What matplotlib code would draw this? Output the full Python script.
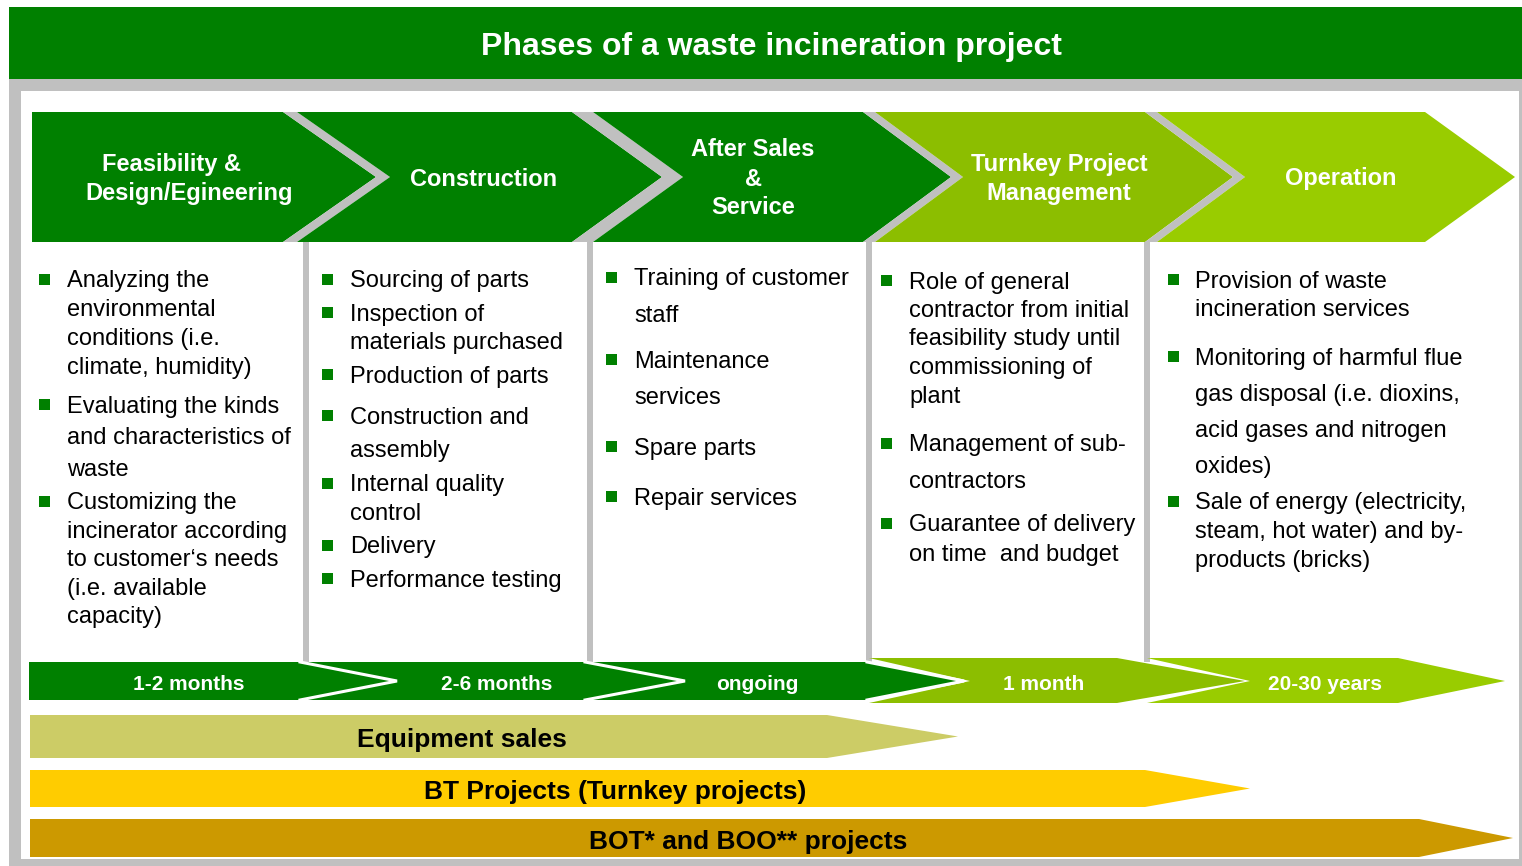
import matplotlib.pyplot as plt
from matplotlib.patches import Polygon, Rectangle

FONT = ['Liberation Sans', 'DejaVu Sans']
plt.rcParams['font.family'] = FONT

# ---- content ----
title = "Phases of a waste incineration project"
phases = ["Feasibility &\nDesign/Egineering", "Construction", "After Sales\n&\nService",
          "Turnkey Project\nManagement", "Operation"]
durations = ["1-2 months", "2-6 months", "ongoing", "1 month", "20-30 years"]
models = ["Equipment sales", "BT Projects (Turnkey projects)", "BOT* and BOO** projects"]

tasks_feasibility = ["Analyzing the\nenvironmental\nconditions (i.e.\nclimate, humidity)",
                     "Evaluating the kinds\nand characteristics of\nwaste",
                     "Customizing the\nincinerator according\nto customer‘s needs\n(i.e. available\ncapacity)"]
tasks_construction = ["Sourcing of parts", "Inspection of\nmaterials purchased", "Production of parts",
                      "Construction and\nassembly", "Internal quality\ncontrol", "Delivery",
                      "Performance testing"]
tasks_service = ["Training of customer\nstaff", "Maintenance\nservices", "Spare parts", "Repair services"]
tasks_turnkey = ["Role of general\ncontractor from initial\nfeasibility study until\ncommissioning of\nplant",
                 "Management of sub-\ncontractors", "Guarantee of delivery\non time  and budget"]
tasks_operation = ["Provision of waste\nincineration services",
                   "Monitoring of harmful flue\ngas disposal (i.e. dioxins,\nacid gases and nitrogen\noxides)",
                   "Sale of energy (electricity,\nsteam, hot water) and by-\nproducts (bricks)"]
tasks = [tasks_feasibility, tasks_construction, tasks_service, tasks_turnkey, tasks_operation]

# ---- styling / layout (pixels, y down) ----
W, H, DPI = 1522, 866, 100
GREEN = '#008000'
GRAY = '#C0C0C0'
phase_colors = [GREEN, GREEN, GREEN, '#8CBE00', '#99CC00']
model_colors = ['#CCCC66', '#FFCC00', '#CC9900']

ch_left = [32, 297, 593, 875, 1157]
ch_right = [283, 572, 863, 1145, 1425]
ch_depth = [93, 90, 88, 88, 90]
ch_top, ch_bot = 112, 242
ch_mid = (ch_top + ch_bot) / 2
label_x = [189, 484, 753, 1059, 1341]

col_lines = [303, 587, 866, 1144]
bullet_x = [44, 327, 611, 886, 1173]
text_x = [67, 350, 634, 909, 1195]
item_pos = [
    [(279, 28.7), (404, 31.5), (501, 28.5)],
    [(279, 0), (312, 29), (374, 0), (415, 34), (483, 29), (545, 0), (578, 0)],
    [(277, 36), (359, 36), (446, 0), (496, 0)],
    [(280, 28.5), (443, 36), (523, 29)],
    [(279, 29), (356, 36), (501, 28.5)],
]

dur_x = [189, 497, 757, 1044, 1325]

bar_rows = [(715, 758), (770, 807), (819, 857)]
bar_right = [827, 1145, 1419]
bar_tip = [958, 1250, 1513]
model_x = [462, 615, 748]


def put(x, yc, s, fs, **kw):
    # place text so that its visual centre sits at yc
    ax.text(x, yc + 0.36 * fs * DPI / 72, s, fontsize=fs, va='baseline', **kw)


fig = plt.figure(figsize=(W / DPI, H / DPI), dpi=DPI)
ax = fig.add_axes([0, 0, 1, 1])
ax.set_xlim(0, W)
ax.set_ylim(H, 0)
ax.axis('off')

# header and frame
ax.add_patch(Rectangle((9, 7), W - 9, 72, color=GREEN, lw=0))
put(771, 44, title, 23, color='white', weight='bold', ha='center')
ax.add_patch(Rectangle((9, 79), W - 9, H - 79, color=GRAY, lw=0))
ax.add_patch(Rectangle((21, 91), 1519 - 21, 859 - 91, color='white', lw=0))

# phase chevrons
for i, name in enumerate(phases):
    l, r, d = ch_left[i], ch_right[i], ch_depth[i]
    pts = [(l, ch_top), (r, ch_top), (r + d, ch_mid), (r, ch_bot), (l, ch_bot)]
    if i > 0:
        pts.append((l + ch_depth[i - 1], ch_mid))
    ax.add_patch(Polygon(pts, closed=True, color=phase_colors[i], lw=0))
    if i < len(phases) - 1:
        nl = ch_left[i + 1]
        sep = [(r, ch_top), (nl, ch_top), (nl + d, ch_mid), (nl, ch_bot), (r, ch_bot), (r + d, ch_mid)]
        ax.add_patch(Polygon(sep, closed=True, color=GRAY, lw=0))
    lines = name.split('\n')
    for k, line in enumerate(lines):
        yc = ch_mid + (k - (len(lines) - 1) / 2) * 29
        dx = -17 if (i == 0 and k == 0) else 0
        put(label_x[i] + dx, yc, line, 17, color='white', weight='bold', ha='center')

# column separators
for x in col_lines:
    ax.add_patch(Rectangle((x, ch_bot), 6, 662 - ch_bot, color=GRAY, lw=0))

# bullet lists
for c, items in enumerate(tasks):
    for item, (y0, pitch) in zip(items, item_pos[c]):
        ax.add_patch(Rectangle((bullet_x[c] - 5.5, y0 - 5.5), 11, 11, color=GREEN, lw=0))
        for k, line in enumerate(item.split('\n')):
            put(text_x[c], y0 + k * pitch, line, 17, color='black', ha='left')

# duration arrows
dur_shapes = [
    [(29, 662), (300, 662), (397, 681), (300, 700), (29, 700)],
    [(300, 662), (585, 662), (685, 681), (585, 700), (300, 700), (397, 681)],
    [(585, 662), (867, 662), (964, 681), (867, 700), (585, 700), (685, 681)],
    [(869, 658), (1117, 658), (1245, 681), (1117, 703), (869, 703), (970, 681)],
    [(1147, 658), (1398, 658), (1505, 681), (1398, 703), (1147, 703), (1250, 681)],
]
for i, pts in enumerate(dur_shapes):
    ax.add_patch(Polygon(pts, closed=True, color=phase_colors[i], lw=0))
for pts in dur_shapes[:3]:
    xs = [pts[1][0], pts[2][0], pts[3][0]]
    ys = [pts[1][1], pts[2][1], pts[3][1]]
    ax.plot(xs, ys, color='white', lw=2.2, solid_joinstyle='miter')
for i, lab in enumerate(durations):
    put(dur_x[i], 682, lab, 15, color='white', weight='bold', ha='center')

# business model bars
for i, lab in enumerate(models):
    t, b = bar_rows[i]
    pts = [(30, t), (bar_right[i], t), (bar_tip[i], (t + b) / 2), (bar_right[i], b), (30, b)]
    ax.add_patch(Polygon(pts, closed=True, color=model_colors[i], lw=0))
    put(model_x[i], (t + b) / 2 + 1, lab, 19, color='black', weight='bold', ha='center')

fig.savefig('out.png', dpi=DPI)
